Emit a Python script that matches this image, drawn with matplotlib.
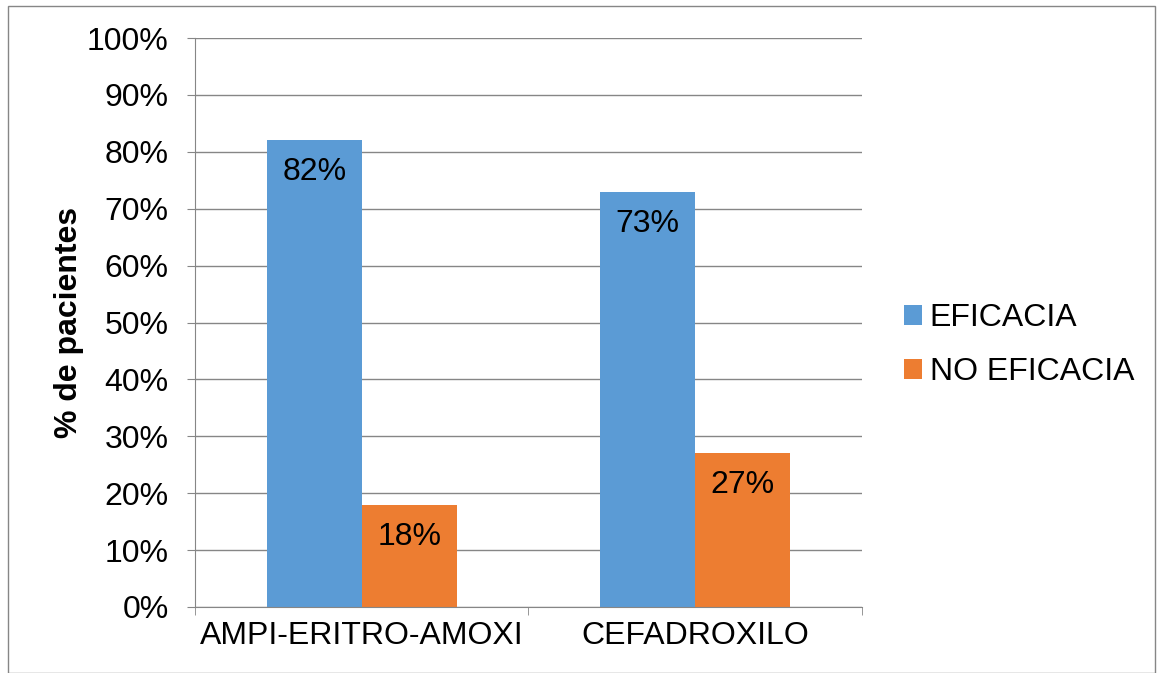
import numpy as np
import matplotlib.pyplot as plt
from matplotlib.patches import Rectangle

plt.rcParams['font.family'] = ['Liberation Sans', 'DejaVu Sans']

categorias = ["AMPI-ERITRO-AMOXI", "CEFADROXILO"]
eficacia = [82, 73]
no_eficacia = [18, 27]
series = ["EFICACIA", "NO EFICACIA"]
colores = ["#5B9BD5", "#ED7D31"]

fs = 23

fig = plt.figure(figsize=(11.62, 6.73), dpi=100)
ax = fig.add_axes([0.1678, 0.0981, 0.5740, 0.8454])

x = np.arange(len(categorias))
w = 0.285
b1 = ax.bar(x - w / 2, eficacia, w, color=colores[0], label=series[0])
b2 = ax.bar(x + w / 2, no_eficacia, w, color=colores[1], label=series[1])

# etiquetas dentro de la barra, cerca del extremo superior
for barras in (b1, b2):
    for r in barras:
        h = r.get_height()
        ax.annotate("%d%%" % h, (r.get_x() + r.get_width() / 2, h),
                    xytext=(0, -32), textcoords="offset pixels",
                    ha="center", va="center", fontsize=fs)

ax.set_xlim(-0.5, 1.5)
ax.set_ylim(0, 100)
ax.set_yticks(np.arange(0, 101, 10))
ax.set_yticklabels(["%d%%" % v for v in range(0, 101, 10)], fontsize=fs)
ax.set_xticks(x)
ax.set_xticklabels(categorias, fontsize=fs)
ax.tick_params(axis="x", length=0, pad=10)
ax.tick_params(axis="y", length=6, color="#868686", pad=13)
ax.set_xticks([-0.5, 0.5, 1.5], minor=True)
ax.tick_params(axis="x", which="minor", length=6, color="#868686")

ax.grid(axis="y", color="#868686", linewidth=1)
ax.set_axisbelow(True)
for s in ["top", "right"]:
    ax.spines[s].set_visible(False)
for s in ["left", "bottom"]:
    ax.spines[s].set_color("#868686")

ax.set_ylabel("% de pacientes", fontsize=fs, fontweight="bold", labelpad=2)

ax.legend(loc="center left", bbox_to_anchor=(1.063, 0.46), frameon=False,
          fontsize=fs, handlelength=0.55, handleheight=0.55, handletextpad=0.25,
          labelspacing=0.75, borderpad=0, borderaxespad=0)

# marco exterior
fig.patches.append(Rectangle((8 / 1162, 0), 1147 / 1162, 667 / 673,
                             transform=fig.transFigure, fill=False,
                             edgecolor="#868686", linewidth=1))

fig.savefig("out.png", dpi=100)
